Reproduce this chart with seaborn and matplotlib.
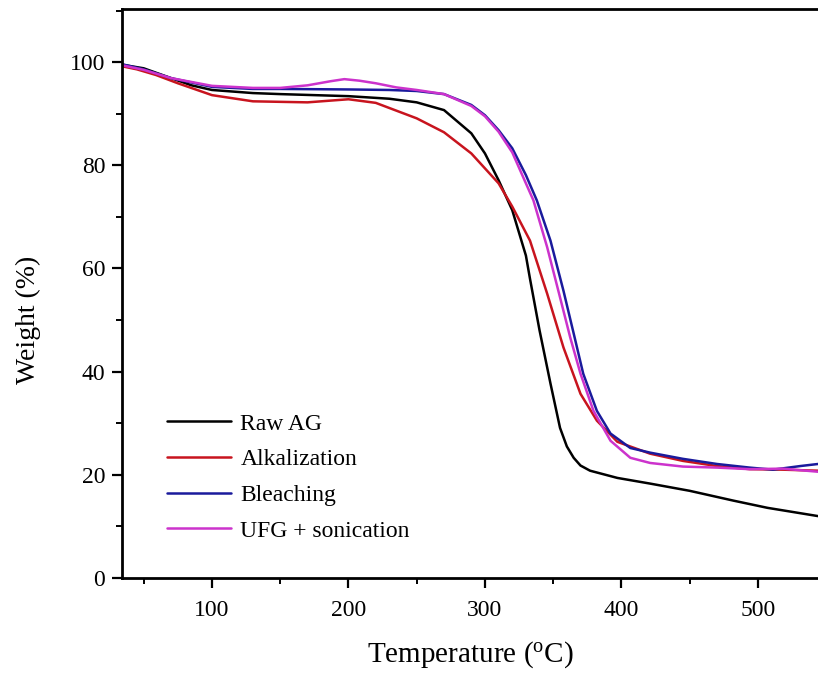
import matplotlib
matplotlib.use("Agg")
import matplotlib.pyplot as plt
from matplotlib.ticker import MultipleLocator
import seaborn as sns
import pandas as pd

# ---- data ----
raw_T = [34, 50, 70, 85, 100, 130, 150, 200, 230, 250, 270, 290, 300, 310, 320, 330, 333, 340,
         348, 355, 360, 365, 370, 377, 397, 421, 450, 482, 507, 544]
raw_W = [99.5, 98.8, 96.9, 95.5, 94.6, 94.0, 93.8, 93.4, 92.9, 92.2, 90.7, 86.2, 82.3, 77.1, 71.3,
         62.5, 58.0, 48.0, 37.7, 29.1, 25.5, 23.3, 21.8, 20.8, 19.4, 18.3, 16.9, 15.0, 13.6, 12.0]

alk_T = [34, 45, 59, 75, 100, 130, 170, 200, 220, 250, 270, 290, 310, 320, 333, 345.6, 357.5,
         370, 382, 397, 421, 445, 470, 494, 518, 544]
alk_W = [99.2, 98.6, 97.5, 95.9, 93.6, 92.4, 92.2, 92.8, 92.1, 89.1, 86.4, 82.3, 76.5, 72.0,
         65.4, 55.1, 44.7, 35.7, 30.5, 26.4, 24.1, 22.7, 21.7, 21.1, 21.0, 20.8]

ble_T = [34, 50, 70, 100, 130, 150, 200, 230, 250, 270, 290, 300, 310, 320, 330, 338, 348, 357.5,
         365, 372, 382, 392, 406.5, 421, 445, 470, 494, 511, 531, 544]
ble_W = [99.6, 98.6, 96.9, 95.2, 94.8, 94.8, 94.7, 94.6, 94.4, 93.8, 91.7, 89.7, 86.8, 83.3,
         78.1, 73.2, 65.4, 55.7, 47.4, 39.6, 32.4, 28.0, 25.2, 24.3, 23.1, 22.1, 21.4, 21.0, 21.7, 22.1]

ufg_T = [34, 50, 70, 100, 130, 150, 170, 187, 197, 208, 220, 235, 250, 270, 290, 300, 310, 320,
         330, 335.5, 345.6, 355, 362.5, 370, 379.5, 392, 406.5, 421, 445, 470, 494, 518, 544]
ufg_W = [99.4, 98.5, 96.9, 95.4, 95.0, 95.0, 95.5, 96.3, 96.7, 96.4, 95.9, 95.1, 94.6, 93.8,
         91.5, 89.5, 86.5, 82.5, 76.5, 73.2, 64.1, 54.4, 46.6, 39.6, 32.4, 26.6, 23.3, 22.3,
         21.6, 21.4, 21.1, 21.2, 20.6]

labels = ["Raw AG", "Alkalization", "Bleaching", "UFG + sonication"]
colors = ["#000000", "#c8141e", "#1a1a9c", "#cc33cc"]

x_ticks = [100, 200, 300, 400, 500]
y_ticks = [0, 20, 40, 60, 80, 100]

series = [(raw_T, raw_W), (alk_T, alk_W), (ble_T, ble_W), (ufg_T, ufg_W)]

sns.set_theme(style="ticks")
plt.rcParams["font.family"] = ["Liberation Serif", "DejaVu Serif"]
plt.rcParams["mathtext.fontset"] = "custom"
plt.rcParams["mathtext.rm"] = "Liberation Serif"
plt.rcParams["mathtext.it"] = "Liberation Serif:italic"
plt.rcParams["text.color"] = "black"
plt.rcParams["axes.labelcolor"] = "black"

fig = plt.figure(figsize=(8.18, 6.75), dpi=100)
ax = fig.add_axes([0.149, 0.1437, 0.851, 0.843])

for (T, W), lab, col in zip(series, labels, colors):
    df = pd.DataFrame({"T": T, "W": W})
    sns.lineplot(data=df, x="T", y="W", ax=ax, color=col, label=lab, lw=1.8, sort=False)

ax.set_xlim(34, 544)
ax.set_ylim(0, 110.3)
ax.set_xticks(x_ticks)
ax.set_yticks(y_ticks)
ax.xaxis.set_minor_locator(MultipleLocator(50))
ax.yaxis.set_minor_locator(MultipleLocator(10))
ax.tick_params(axis="both", which="major", direction="out", length=7, width=1.6,
               labelsize=17, colors="black")
ax.tick_params(axis="x", which="major", pad=9)
ax.tick_params(axis="y", which="major", pad=5)
ax.tick_params(axis="both", which="minor", direction="out", length=4, width=1.4, colors="black")

for s in ["left", "bottom", "top"]:
    ax.spines[s].set_linewidth(2)
    ax.spines[s].set_color("black")
ax.spines["right"].set_visible(False)

ax.set_xlabel("Temperature ($^{\\mathrm{o}}$C)", fontsize=21)
ax.set_ylabel("Weight (%)", fontsize=20)
ax.xaxis.set_label_coords(0.5, -0.107)
ax.yaxis.set_label_coords(-0.116, 0.453)

ax.legend(loc="upper left", bbox_to_anchor=(0.065, 0.29), frameon=False, fontsize=17,
          handlelength=2.7, handletextpad=0.4, labelspacing=0.6, borderpad=0,
          borderaxespad=0)

fig.savefig("out.png", dpi=100)
